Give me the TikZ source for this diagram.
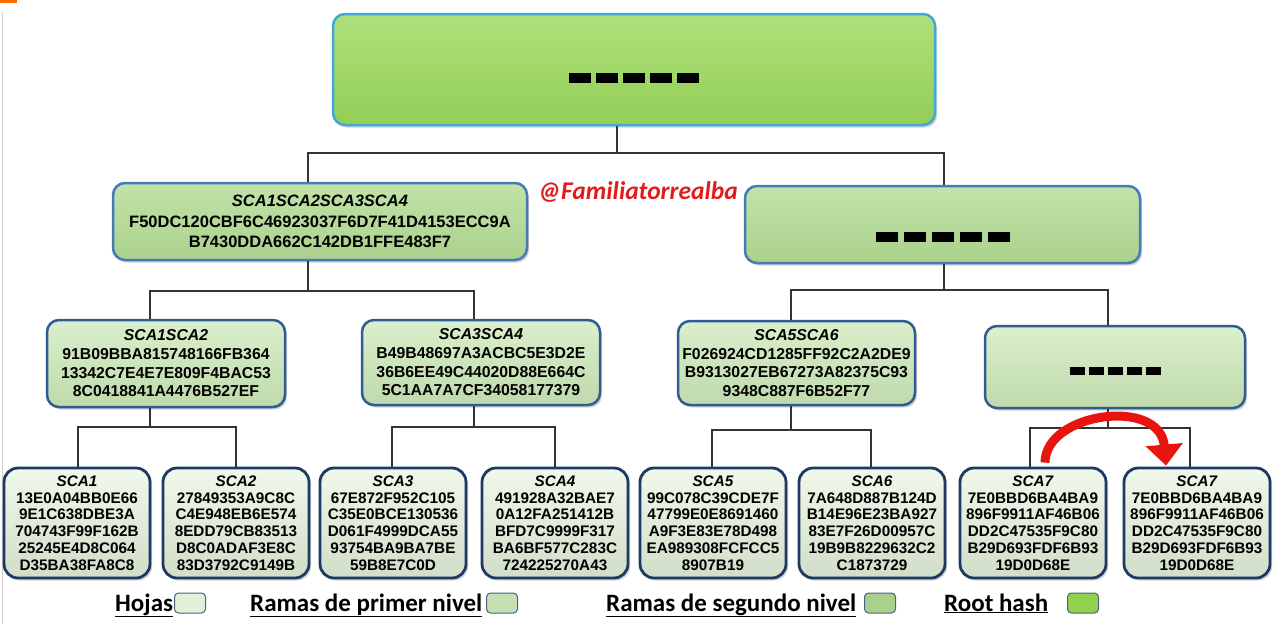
\documentclass[tikz,border=0pt]{standalone}
\usepackage{fontspec}
\setmainfont{Liberation Sans}
\newfontfamily\calfont{Carlito}
\usetikzlibrary{arrows.meta,shadows,calc}
\definecolor{rootc}{HTML}{9BD95A}
\definecolor{rootb}{HTML}{3FA9DA}
\definecolor{lvlonec}{HTML}{B3DC93}
\definecolor{lvloneb}{HTML}{4679B8}
\definecolor{lvltwoc}{HTML}{CBE8B6}
\definecolor{lvltwob}{HTML}{2F5C95}
\definecolor{leafc}{HTML}{E3F1D9}
\definecolor{leafb}{HTML}{1E3A62}
\definecolor{wmred}{HTML}{E31B1B}
\definecolor{arrred}{HTML}{E8140E}
\definecolor{legleaf}{HTML}{E2F0D9}
\definecolor{legone}{HTML}{C5E0B4}
\definecolor{legtwo}{HTML}{A9D18E}
\definecolor{legroot}{HTML}{92D050}
\newcommand\mydashes[3]{\mbox{\rule{#1}{#2}\hspace{#3}\rule{#1}{#2}\hspace{#3}\rule{#1}{#2}\hspace{#3}\rule{#1}{#2}\hspace{#3}\rule{#1}{#2}}}
\begin{document}
\begin{tikzpicture}[x=1pt,y=-1pt,
  hbox/.style={rounded corners=12pt, line width=2.5pt, align=center, inner sep=0pt,
    drop shadow={shadow xshift=2pt,shadow yshift=-2.5pt,opacity=0.35}},
  rootbox/.style={hbox, draw=rootb, top color=rootc!80!white, middle color=rootc, bottom color=rootc!95!black,
    minimum width=602pt, minimum height=111pt},
  lvlone/.style={hbox, draw=lvloneb, top color=lvlonec!80!white, middle color=lvlonec, bottom color=lvlonec!95!black,
    font={\bfseries\fontsize{16.5}{20.5}\selectfont}},
  lvltwo/.style={hbox, draw=lvltwob, top color=lvltwoc!70!white, middle color=lvltwoc, bottom color=lvltwoc!94!black,
    font={\bfseries\fontsize{15.8}{18.7}\selectfont}},
  leaf/.style={hbox, rounded corners=14pt, line width=2.8pt, draw=leafb, top color=leafc!50!white, middle color=leafc, bottom color=leafc!92!black,
    minimum width=146pt, minimum height=110pt, font={\bfseries\fontsize{15.3}{16.8}\selectfont}},
  conn/.style={draw=black!80, line width=1.6pt},
  redarr/.style={draw=arrred, line width=9pt, -{Triangle[width=36pt,length=21pt]}},
  legtext/.style={font={\calfont\bfseries\fontsize{25}{29}\selectfont}, inner sep=0pt, anchor=base west},
  legbox/.style={draw=leafb!80, line width=1pt, rounded corners=4pt, minimum width=31pt, minimum height=20pt, inner sep=0pt}
]
\useasboundingbox (0,0) rectangle (1284,624);
\fill[white] (0,0) rectangle (1284,624);
\fill[orange!85!red] (0,0) rectangle (17,3);
\draw[gray!35, line width=1pt] (2.5,12) -- (2.5,624);

% root
\node[rootbox] (root) at (634,69.5) {\rule{0pt}{27pt}\mydashes{22pt}{10pt}{5pt}};
% level 1
\node[lvlone, minimum width=414pt, minimum height=77pt] (l1a) at (320,221.5)
  {\textit{SCA1SCA2SCA3SCA4}\\F50DC120CBF6C46923037F6D7F41D4153ECC9A\\B7430DDA662C142DB1FFE483F7};
\node[lvlone, minimum width=395pt, minimum height=77pt] (l1b) at (942.5,224.5)
  {\rule{0pt}{35pt}\mydashes{22pt}{10pt}{6pt}};
% level 2
\node[lvltwo, minimum width=238pt, minimum height=87pt] (l2a) at (166,363.5)
  {\textit{SCA1SCA2}\\91B09BBA815748166FB364\\13342C7E4E7E809F4BAC53\\8C0418841A4476B527EF};
\node[lvltwo, minimum width=238pt, minimum height=85pt] (l2b) at (481,362.5)
  {\textit{SCA3SCA4}\\B49B48697A3ACBC5E3D2E\\36B6EE49C44020D88E664C\\5C1AA7A7CF34058177379};
\node[lvltwo, minimum width=237pt, minimum height=84pt] (l2c) at (796.5,363)
  {\textit{SCA5SCA6}\\F026924CD1285FF92C2A2DE9\\B9313027EB67273A82375C93\\9348C887F6B52F77};
\node[lvltwo, minimum width=260pt, minimum height=82pt] (l2d) at (1115,367)
  {\rule{0pt}{15pt}\mydashes{15pt}{8pt}{4pt}};
% leaves
\node[leaf] (s1) at (77,523) {\textit{SCA1}\\13E0A04BB0E66\\9E1C638DBE3A\\704743F99F162B\\25245E4D8C064\\D35BA38FA8C8};
\node[leaf] (s2) at (236,523) {\textit{SCA2}\\27849353A9C8C\\C4E948EB6E574\\8EDD79CB83513\\D8C0ADAF3E8C\\83D3792C9149B};
\node[leaf] (s3) at (393,523) {\textit{SCA3}\\67E872F952C105\\C35E0BCE130536\\D061F4999DCA55\\93754BA9BA7BE\\59B8E7C0D};
\node[leaf] (s4) at (555,523) {\textit{SCA4}\\491928A32BAE7\\0A12FA251412B\\BFD7C9999F317\\BA6BF577C283C\\724225270A43};
\node[leaf] (s5) at (713,523) {\textit{SCA5}\\99C078C39CDE7F\\47799E0E8691460\\A9F3E83E78D498\\EA989308FCFCC5\\8907B19};
\node[leaf] (s6) at (872,523) {\textit{SCA6}\\7A648D887B124D\\B14E96E23BA927\\83E7F26D00957C\\19B9B8229632C2\\C1873729};
\node[leaf] (s7) at (1033,523) {\textit{SCA7}\\7E0BBD6BA4BA9\\896F9911AF46B06\\DD2C47535F9C80\\B29D693FDF6B93\\19D0D68E};
\node[leaf] (s8) at (1197,523) {\textit{SCA7}\\7E0BBD6BA4BA9\\896F9911AF46B06\\DD2C47535F9C80\\B29D693FDF6B93\\19D0D68E};

% connectors
\draw[conn] (root.south -| 617,0) -- (617,153);
\draw[conn] (l1a.north -| 308,0) -- (308,153) -- (944,153) -- (l1b.north -| 944,0);
\draw[conn] (l1a.south -| 308,0) -- (308,291);
\draw[conn] (l2a.north -| 150,0) -- (150,291) -- (474,291) -- (l2b.north -| 474,0);
\draw[conn] (l1b.south -| 944,0) -- (944,290);
\draw[conn] (l2c.north -| 791,0) -- (791,290) -- (1108,290) -- (l2d.north -| 1108,0);
\draw[conn] (l2a.south -| 150,0) -- (150,427);
\draw[conn] (s1.north -| 78,0) -- (78,427) -- (236,427) -- (s2.north -| 236,0);
\draw[conn] (l2b.south -| 474,0) -- (474,427);
\draw[conn] (s3.north -| 392,0) -- (392,427) -- (555,427) -- (s4.north -| 555,0);
\draw[conn] (l2c.south -| 791,0) -- (791,430);
\draw[conn] (s5.north -| 712,0) -- (712,430) -- (871,430) -- (s6.north -| 871,0);
\draw[conn] (l2d.south -| 1108,0) -- (1108,428);
\draw[conn] (s7.north -| 1030,0) -- (1030,428) -- (1190,428) -- (s8.north -| 1190,0);

% red arrow
\draw[redarr] ($(s7.north)+(12,-4)$) .. controls ($(s7.north)+(12,-54)$) and ($(s8.north)+(-37,-70)$) .. ($(s8.north)+(-31,-1)$);

% watermark
\node[font={\calfont\bfseries\itshape\fontsize{25.5}{29}\selectfont}, text=wmred, inner sep=0pt] (wm) at (638,192) {@Familiatorrealba};

% legend
\node[legtext] (t1) at (115,611) {\underline{Hojas}};
\node[legbox, fill=legleaf] (k1) at (190,603) {};
\node[legtext] (t2) at (250,611) {\underline{Ramas de primer nivel}};
\node[legbox, fill=legone] (k2) at (502,603) {};
\node[legtext] (t3) at (606,611) {\underline{Ramas de segundo nivel}};
\node[legbox, fill=legtwo] (k3) at (880,603) {};
\node[legtext] (t4) at (944,611) {\underline{Root hash}};
\node[legbox, fill=legroot] (k4) at (1083,603) {};
\end{tikzpicture}
\end{document}
